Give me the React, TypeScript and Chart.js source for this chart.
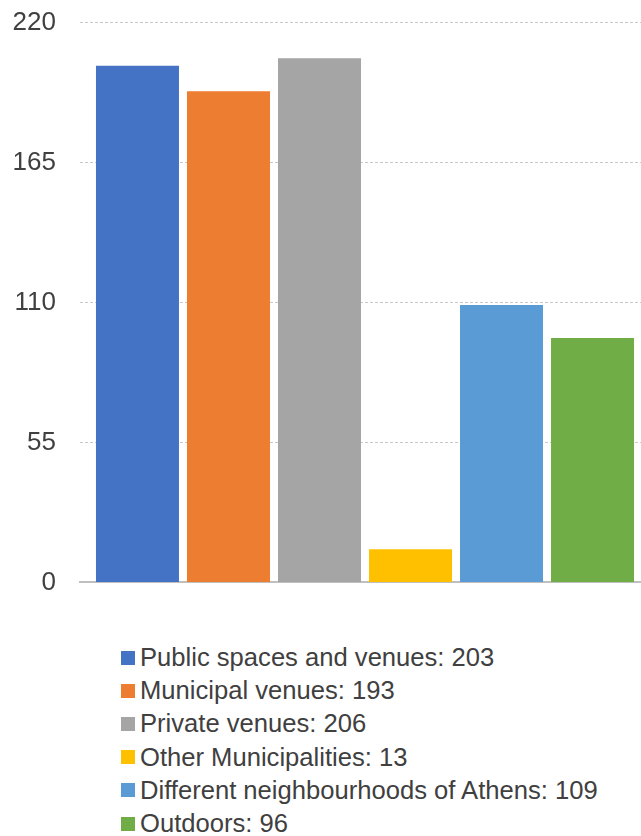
import React, { useEffect, useRef } from "react";
import { Chart, registerables } from "chart.js";

Chart.register(...registerables);

const categories = [
  "Public spaces and venues",
  "Municipal venues",
  "Private venues",
  "Other Municipalities",
  "Different neighbourhoods of Athens",
  "Outdoors",
];
const values = [203, 193, 206, 13, 109, 96];
const colors = ["#4472C4", "#ED7D31", "#A5A5A5", "#FFC000", "#5B9BD5", "#70AD47"];
const yTicks = [0, 55, 110, 165, 220];

const FONT = "'Liberation Sans', Arial, sans-serif";
const TEXT = "#404040";

export default function App() {
  const ref = useRef<HTMLCanvasElement | null>(null);

  useEffect(() => {
    document.body.style.margin = "0";
    const canvas = ref.current;
    if (!canvas) return;
    const chart = new Chart(canvas, {
      type: "bar",
      data: {
        labels: [""],
        datasets: categories.map((c, i) => ({
          label: `${c}: ${values[i]}`,
          data: [values[i]],
          backgroundColor: colors[i],
          borderWidth: 0,
          barPercentage: 0.912,
          categoryPercentage: 0.958,
        })),
      },
      options: {
        responsive: false,
        animation: false,
        devicePixelRatio: 1,
        layout: { padding: { top: 7, bottom: 0, left: 0, right: 0 } },
        plugins: {
          legend: { display: false },
          tooltip: { enabled: false },
        },
        scales: {
          x: {
            ticks: { display: false },
            grid: { display: false, drawTicks: false },
            border: { display: true, color: "#BFBFBF", width: 2 },
            afterFit: (s: any) => {
              s.height = 0;
            },
          },
          y: {
            min: 0,
            max: 220,
            afterBuildTicks: (s: any) => {
              s.ticks = yTicks.map((v) => ({ value: v }));
            },
            afterFit: (s: any) => {
              s.width = 80;
            },
            ticks: {
              padding: 24,
              color: TEXT,
              font: { family: FONT, size: 26 },
            },
            grid: {
              color: "#C8C8C8",
              lineWidth: 1,
              drawTicks: false,
            },
            border: { display: false, dash: [3, 2] },
          },
        },
      },
    });
    return () => chart.destroy();
  }, []);

  return (
    <div style={{ position: "relative", width: 641, height: 836, overflow: "hidden" }}>
      <canvas
        ref={ref}
        width={650}
        height={639}
        style={{ display: "block", position: "absolute", left: 0, top: -17 }}
      />
      <div
        style={{
          position: "absolute",
          left: 121,
          top: 641,
          fontFamily: FONT,
          fontSize: 25.6,
          color: TEXT,
        }}
      >
        {categories.map((c, i) => (
          <div
            key={c}
            style={{ display: "flex", alignItems: "center", height: 33.2, whiteSpace: "nowrap" }}
          >
            <span
              style={{
                display: "inline-block",
                width: 14,
                height: 14,
                background: colors[i],
                marginRight: 5,
                flexShrink: 0,
              }}
            />
            <span>{`${c}: ${values[i]}`}</span>
          </div>
        ))}
      </div>
    </div>
  );
}
